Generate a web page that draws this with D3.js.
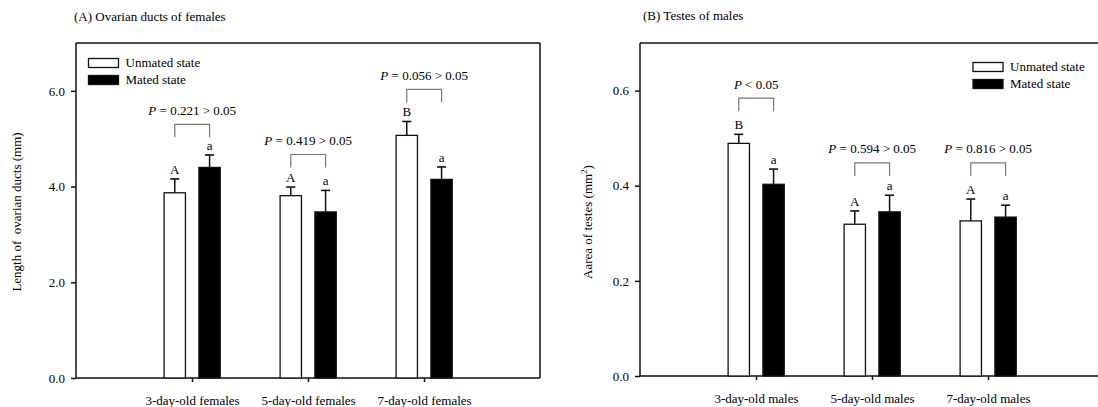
<!DOCTYPE html>
<html>
<head>
<meta charset="utf-8">
<script src="https://cdn.jsdelivr.net/npm/d3@7"></script>
<style>
  html, body { margin: 0; padding: 0; background: #fff; }
  svg { display: block; font-family: "Liberation Serif", "Times New Roman", serif; }
  text { white-space: pre; }
</style>
</head>
<body>
<svg id="chart" width="1098" height="407"></svg>
<script>
// ---------- Data: panel A (females) ----------
const categoriesA = ["3-day-old females", "5-day-old females", "7-day-old females"];
const unmatedA = [3.87, 3.81, 5.07];
const unmatedErrA = [0.29, 0.18, 0.29];
const matedA = [4.40, 3.47, 4.15];
const matedErrA = [0.26, 0.45, 0.26];
const lettersUnmatedA = ["A", "A", "B"];
const lettersMatedA = ["a", "a", "a"];
const pTextsA = [" = 0.221 > 0.05", " = 0.419 > 0.05", " = 0.056 > 0.05"];
const bracketLevelA = [5.30, 4.67, 6.03];
const yTicksA = [0, 2, 4, 6];

// ---------- Data: panel B (males) ----------
const categoriesB = ["3-day-old males", "5-day-old males", "7-day-old males"];
const unmatedB = [0.489, 0.319, 0.326];
const unmatedErrB = [0.019, 0.028, 0.046];
const matedB = [0.403, 0.345, 0.334];
const matedErrB = [0.032, 0.035, 0.025];
const lettersUnmatedB = ["B", "A", "A"];
const lettersMatedB = ["a", "a", "a"];
const pTextsB = [" < 0.05", " = 0.594 > 0.05", " = 0.816 > 0.05"];
const bracketLevelB = [0.584, 0.448, 0.448];
const yTicksB = [0, 0.2, 0.4, 0.6];

const legendLabels = ["Unmated state", "Mated state"];

const svg = d3.select("#chart");
const INK = "#111";

function drawPanel(cfg) {
  const g = svg.append("g");
  const x = d3.scaleLinear().domain([0, cfg.categories.length + 1]).range([cfg.x0, cfg.x1]);
  const y = d3.scaleLinear().domain(cfg.domain).range([cfg.yBottom, cfg.yTop]);
  const step = x(1) - x(0);
  const bw = step * 0.184;
  const offU = -step * 0.2405;   // left edge of unmated bar relative to category
  const offM = step * 0.0595;    // left edge of mated bar relative to category

  // frame (top + optional right)
  g.append("line").attr("x1", cfg.x0).attr("x2", cfg.x1).attr("y1", cfg.yTop).attr("y2", cfg.yTop)
    .attr("stroke", INK).attr("stroke-width", 1.5);
  if (cfg.x1 <= 1098) {
    g.append("line").attr("x1", cfg.x1).attr("x2", cfg.x1).attr("y1", cfg.yTop).attr("y2", cfg.yBottom)
      .attr("stroke", INK).attr("stroke-width", 1.5);
  }

  // y axis
  const yAxis = d3.axisLeft(y).tickValues(cfg.yTicks).tickFormat(cfg.tickFormat).tickSize(5).tickPadding(6);
  const ya = g.append("g").attr("transform", `translate(${cfg.x0},0)`).call(yAxis);
  ya.select(".domain").attr("d", `M0,${cfg.yTop}V${cfg.yBottom}`).attr("stroke", INK).attr("stroke-width", 1.5);
  ya.selectAll(".tick line").attr("stroke", INK).attr("stroke-width", 1.5);
  ya.selectAll(".tick text").attr("font-family", "Liberation Serif").attr("font-size", 13).attr("fill", "#000");

  // x axis
  const xAxis = d3.axisBottom(x).tickValues(cfg.categories.map((d, i) => i + 1))
    .tickFormat((d) => cfg.categories[d - 1]).tickSize(4).tickPadding(14);
  const xa = g.append("g").attr("transform", `translate(0,${cfg.yBottom})`).call(xAxis);
  xa.select(".domain").attr("d", `M${cfg.x0},0H${cfg.x1}`).attr("stroke", INK).attr("stroke-width", 1.5);
  xa.selectAll(".tick line").attr("stroke", INK).attr("stroke-width", 1.5);
  xa.selectAll(".tick text").attr("font-family", "Liberation Serif").attr("font-size", 13).attr("fill", "#000");

  // bars
  const series = [
    { vals: cfg.unmated, errs: cfg.unmatedErr, off: offU, fill: "#fff", letters: cfg.lettersU },
    { vals: cfg.mated, errs: cfg.matedErr, off: offM, fill: "#000", letters: cfg.lettersM }
  ];
  series.forEach((s) => {
    const data = s.vals.map((v, i) => ({ v, e: s.errs[i], i, L: s.letters[i] }));
    const cx = (d) => x(d.i + 1) + s.off + bw / 2;
    g.selectAll(null).data(data).enter().append("line")
      .attr("x1", cx).attr("x2", cx)
      .attr("y1", (d) => y(d.v)).attr("y2", (d) => y(d.v + d.e))
      .attr("stroke", INK).attr("stroke-width", 1.5);
    g.selectAll(null).data(data).enter().append("line")
      .attr("x1", (d) => cx(d) - 4.5).attr("x2", (d) => cx(d) + 4.5)
      .attr("y1", (d) => y(d.v + d.e)).attr("y2", (d) => y(d.v + d.e))
      .attr("stroke", INK).attr("stroke-width", 1.6);
    g.selectAll(null).data(data).enter().append("rect")
      .attr("x", (d) => x(d.i + 1) + s.off).attr("width", bw)
      .attr("y", (d) => y(d.v)).attr("height", (d) => y(0) - y(d.v))
      .attr("fill", s.fill).attr("stroke", INK).attr("stroke-width", 1.3);
    g.selectAll(null).data(data).enter().append("text")
      .attr("x", cx).attr("y", (d) => y(d.v + d.e) - 5)
      .attr("text-anchor", "middle").attr("font-size", 13).text((d) => d.L);
  });

  // significance brackets
  cfg.bracket.forEach((lvl, i) => {
    const xl = x(i + 1) + offU + bw / 2;
    const xr = x(i + 1) + offM + bw / 2;
    const yt = y(lvl);
    g.append("path").attr("d", `M${xl},${yt + 13}V${yt}H${xr}V${yt + 13}`)
      .attr("fill", "none").attr("stroke", "#777").attr("stroke-width", 1.2);
    const t = g.append("text").attr("x", (xl + xr) / 2).attr("y", yt - 9.5)
      .attr("text-anchor", "middle").attr("font-size", 13);
    t.append("tspan").attr("font-style", "italic").text("P");
    t.append("tspan").text(cfg.pTexts[i]);
  });

  // title
  g.append("text").attr("x", cfg.titleX).attr("y", cfg.titleY).attr("font-size", 13).text(cfg.title);

  // y label
  const yl = g.append("text")
    .attr("transform", `translate(${cfg.ylabX},${cfg.ylabY}) rotate(-90)`)
    .attr("text-anchor", "middle").attr("font-size", 13);
  cfg.ylabel(yl);

  // legend
  const lg = g.append("g");
  legendLabels.forEach((lab, i) => {
    lg.append("rect").attr("x", cfg.legX).attr("y", cfg.legY + i * 17).attr("width", 30).attr("height", 9)
      .attr("fill", i === 0 ? "#fff" : "#000").attr("stroke", INK).attr("stroke-width", 1.3);
    lg.append("text").attr("x", cfg.legX + 37).attr("y", cfg.legY + i * 17 + 8.5)
      .attr("font-size", 13).text(lab);
  });
}

drawPanel({
  categories: categoriesA, unmated: unmatedA, unmatedErr: unmatedErrA, mated: matedA, matedErr: matedErrA,
  lettersU: lettersUnmatedA, lettersM: lettersMatedA, pTexts: pTextsA, bracket: bracketLevelA,
  yTicks: yTicksA, tickFormat: d3.format(".1f"), domain: [0, 7],
  x0: 76, x1: 540, yTop: 43, yBottom: 378,
  title: "(A) Ovarian ducts of females", titleX: 74, titleY: 21,
  ylabX: 21, ylabY: 212,
  ylabel: (t) => t.text("Length of  ovarian ducts (mm)"),
  legX: 88.5, legY: 58.5
});

drawPanel({
  categories: categoriesB, unmated: unmatedB, unmatedErr: unmatedErrB, mated: matedB, matedErr: matedErrB,
  lettersU: lettersUnmatedB, lettersM: lettersMatedB, pTexts: pTextsB, bracket: bracketLevelB,
  yTicks: yTicksB, tickFormat: d3.format(".1f"), domain: [0, 0.7],
  x0: 640, x1: 1104, yTop: 43, yBottom: 376,
  title: "(B) Testes of males", titleX: 643, titleY: 20,
  ylabX: 592, ylabY: 222,
  ylabel: (t) => {
    t.append("tspan").text("Aarea of testes (mm");
    t.append("tspan").attr("font-size", 9).attr("dy", -5).text("2");
    t.append("tspan").attr("dy", 5).text(")");
  },
  legX: 973, legY: 62.5
});
</script>
</body>
</html>
